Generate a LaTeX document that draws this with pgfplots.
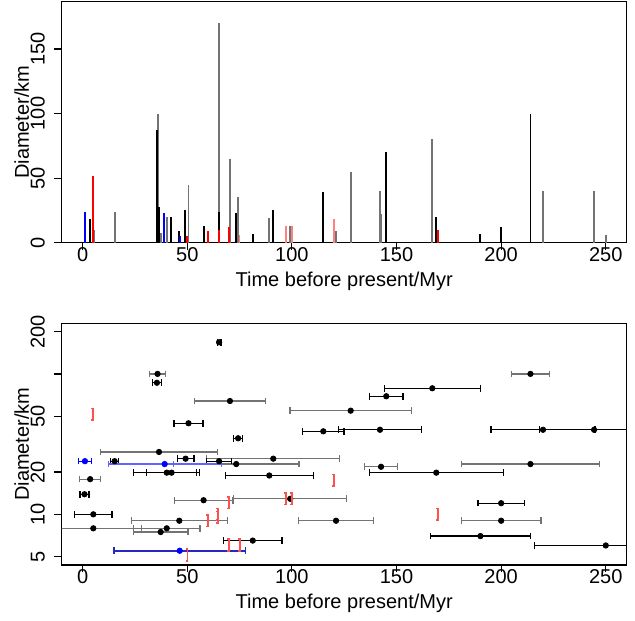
\documentclass[border=0pt]{standalone}
\usepackage{fontspec}
\setmainfont{Liberation Sans}
\usepackage{pgfplots}
\pgfplotsset{compat=1.18}
\definecolor{grayb}{RGB}{115,115,115}
\definecolor{pinkb}{RGB}{255,128,128}
\definecolor{redb}{RGB}{255,0,0}
\definecolor{bracket}{RGB}{255,80,80}
\definecolor{mblue}{RGB}{0,0,255}
\definecolor{lblue}{RGB}{100,100,255}
\definecolor{dblue}{RGB}{40,40,190}
\pgfdeclareplotmark{rbr}{%
  \pgfpathmoveto{\pgfqpoint{-0.35\pgfplotmarksize}{\pgfplotmarksize}}%
  \pgfpathlineto{\pgfqpoint{0pt}{\pgfplotmarksize}}%
  \pgfpathlineto{\pgfqpoint{0pt}{-\pgfplotmarksize}}%
  \pgfpathlineto{\pgfqpoint{-0.35\pgfplotmarksize}{-\pgfplotmarksize}}%
  \pgfusepathqstroke}
\pgfplotsset{
  myaxis/.style={
    scale only axis, width=282.5pt,
    xmin=-10, xmax=260,
    xtick={0,50,100,150,200,250},
    tick align=outside, tick pos=left,
    major tick length=3.7pt,
    axis line style={line width=0.6pt},
    every tick/.style={black, line width=0.6pt},
    tick label style={font=\fontsize{10}{12}\selectfont},
    label style={font=\fontsize{10}{12}\selectfont},
    /pgf/number format/assume math mode=true,
    xticklabel style={anchor=north, inner sep=0pt, yshift=1.4pt},
    yticklabel style={rotate=90, anchor=base, inner sep=0pt, yshift=4.8pt},
    every axis x label/.style={at={(axis description cs:0.5,-0.18)}, anchor=base},
    every axis y label/.style={at={(axis description cs:-0.058,0.5)}, rotate=90, anchor=base},
    xlabel={Time before present/Myr}, ylabel={Diameter/km},
  },
  ebars/.style={only marks, mark=*, mark size=1.35pt, mark options={fill=#1, draw=#1}, #1},
}
\begin{document}
\begin{tikzpicture}
\useasboundingbox (0,0) rectangle (317.5pt,310pt);
% ---------------- top panel ----------------
\begin{axis}[myaxis, at={(30.85pt,188.65pt)}, anchor=south west, height=120.5pt,
  ymin=0, ymax=186.6, ytick={0,50,100,150}]
\addplot[ycomb, grayb, line width=0.9pt] coordinates {
(0.9,13.7) (5.4,10) (15.3,24) (36,100) (37.3,7.3) (40.2,20) (50.6,45) (65.2,170.4)
(70.3,65) (74.2,35.1) (88.9,19.1) (99.1,13) (121.1,9) (128.2,55) (142.1,40)
(142.6,22.2) (167,80) (220,40) (244.4,40) (250,6) (214,23) (200,9) (37.3,7.5)};
\addplot[ycomb, black, line width=0.9pt] coordinates {
(3.6,18) (35.5,87.3) (36.6,28) (42.4,20) (46.1,9) (49.1,25) (58,12.7) (65.2,24)
(73.4,23) (81.3,6.5) (91.1,25) (115,39) (145,70) (169,20) (190,7) (200.1,12) (214,100)};
\addplot[ycomb, mblue, line width=0.9pt] coordinates {(1.1,24) (39,22.7) (46.5,5.5)};
\addplot[ycomb, pinkb, line width=0.9pt] coordinates {(75,6) (97,12.9) (100,13) (120,18)};
\addplot[ycomb, redb, line width=0.9pt] coordinates {(5.1,52) (50,5) (60,9) (65,10) (70,12) (70,6) (170,10)};
\end{axis}
% ---------------- bottom panel ----------------
\begin{axis}[myaxis, at={(30.85pt,27.5pt)}, anchor=south west, height=120.85pt,
  ymode=log, ymin=4.355, ymax=229.3, ytick={5,10,20,50,100,200},
  yticklabels={5,10,20,50,{},200}, yminorticks=false]
% gray error bars
\addplot[ebars=black, error bars/.cd, x dir=both, x explicit, error mark=|,
  error bar style={grayb, line width=0.65pt},
  error mark options={grayb, line width=0.65pt, mark size=1.65pt}] coordinates {
(35.8,100) +- (3.8,0)
(70.4,64.1) +- (17.1,0)
(128.1,54.7) +- (29,0)
(36.5,27.8) +- (28.1,0)
(3.6,17.8) +- (5.1,0)
(46.2,9) +- (23,0)
(5.1,7.95) +- (23.1,0)
(40.2,7.95) +- (15.9,0)
(37.3,7.48) +- (13,0)
(57.8,12.6) +- (14,0)
(91.1,24.9) +- (31.8,0)
(73.4,22.8) +- (30,0)
(99.2,12.9) +- (27,0)
(121.1,9) +- (18,0)
(142.6,21.8) +- (8,0)
(214,100) +- (9,0)
(214,22.8) +- (33,0)
(200,9) +- (19,0)
};
% black error bars
\addplot[ebars=black, error bars/.cd, x dir=both, x explicit, error mark=|,
  error bar style={black, line width=0.65pt},
  error mark options={black, line width=0.65pt, mark size=1.65pt}] coordinates {
(65.2,168) +- (0.9,0)
(35.5,86.5) +- (2.2,0)
(50.6,44.5) +- (6.9,0)
(49.2,24.9) +- (4,0)
(15.3,23.9) +- (1.9,0)
(0.9,13.9) +- (2.2,0)
(5.1,10) +- (9,0)
(40.2,19.8) +- (15.8,0)
(42.5,19.8) +- (12,0)
(65.2,23.9) +- (6,0)
(89.2,18.9) +- (21,0)
(115,39) +- (9.9,0)
(74.3,34.8) +- (2.1,0)
(81.3,6.5) +- (14,0)
(167.1,79) +- (23,0)
(145.1,69.3) +- (8,0)
(142.1,40) +- (19.9,0)
(169,19.8) +- (32,0)
(220,40) +- (24.8,0)
(244.4,40) +- (26.1,0)
(200,12) +- (11,0)
(190.1,7) +- (24,0)
(250,6) +- (34,0)
};
% blue points
\addplot[ebars=mblue, error bars/.cd, x dir=both, x explicit, error mark=|,
  error bar style={mblue, line width=0.65pt},
  error mark options={mblue, line width=0.65pt, mark size=1.65pt}] coordinates {
(1.1,23.9) +- (3.1,0)};
\addplot[ebars=mblue, error bars/.cd, x dir=both, x explicit, error mark=|,
  error bar style={lblue, line width=0.65pt},
  error mark options={lblue, line width=0.65pt, mark size=1.65pt}] coordinates {
(39.2,22.8) +- (27,0)};
\addplot[ebars=mblue, error bars/.cd, x dir=both, x explicit, error mark=|,
  error bar style={dblue, line width=0.8pt},
  error mark options={dblue, line width=0.8pt, mark size=1.65pt}] coordinates {
(46.4,5.5) +- (31.4,0)};
% upper limits
\addplot[only marks, mark=rbr, mark size=2.9pt, bracket, line width=0.8pt] coordinates {
(5,51.5) (50.2,5.13) (60,9.0) (64.8,10) (64.8,9.5) (70,12.1) (70,6.05) (75.1,6.05)
(97.3,12.9) (100,12.9) (120,17.5) (169.7,10)};
\end{axis}
\end{tikzpicture}
\end{document}
